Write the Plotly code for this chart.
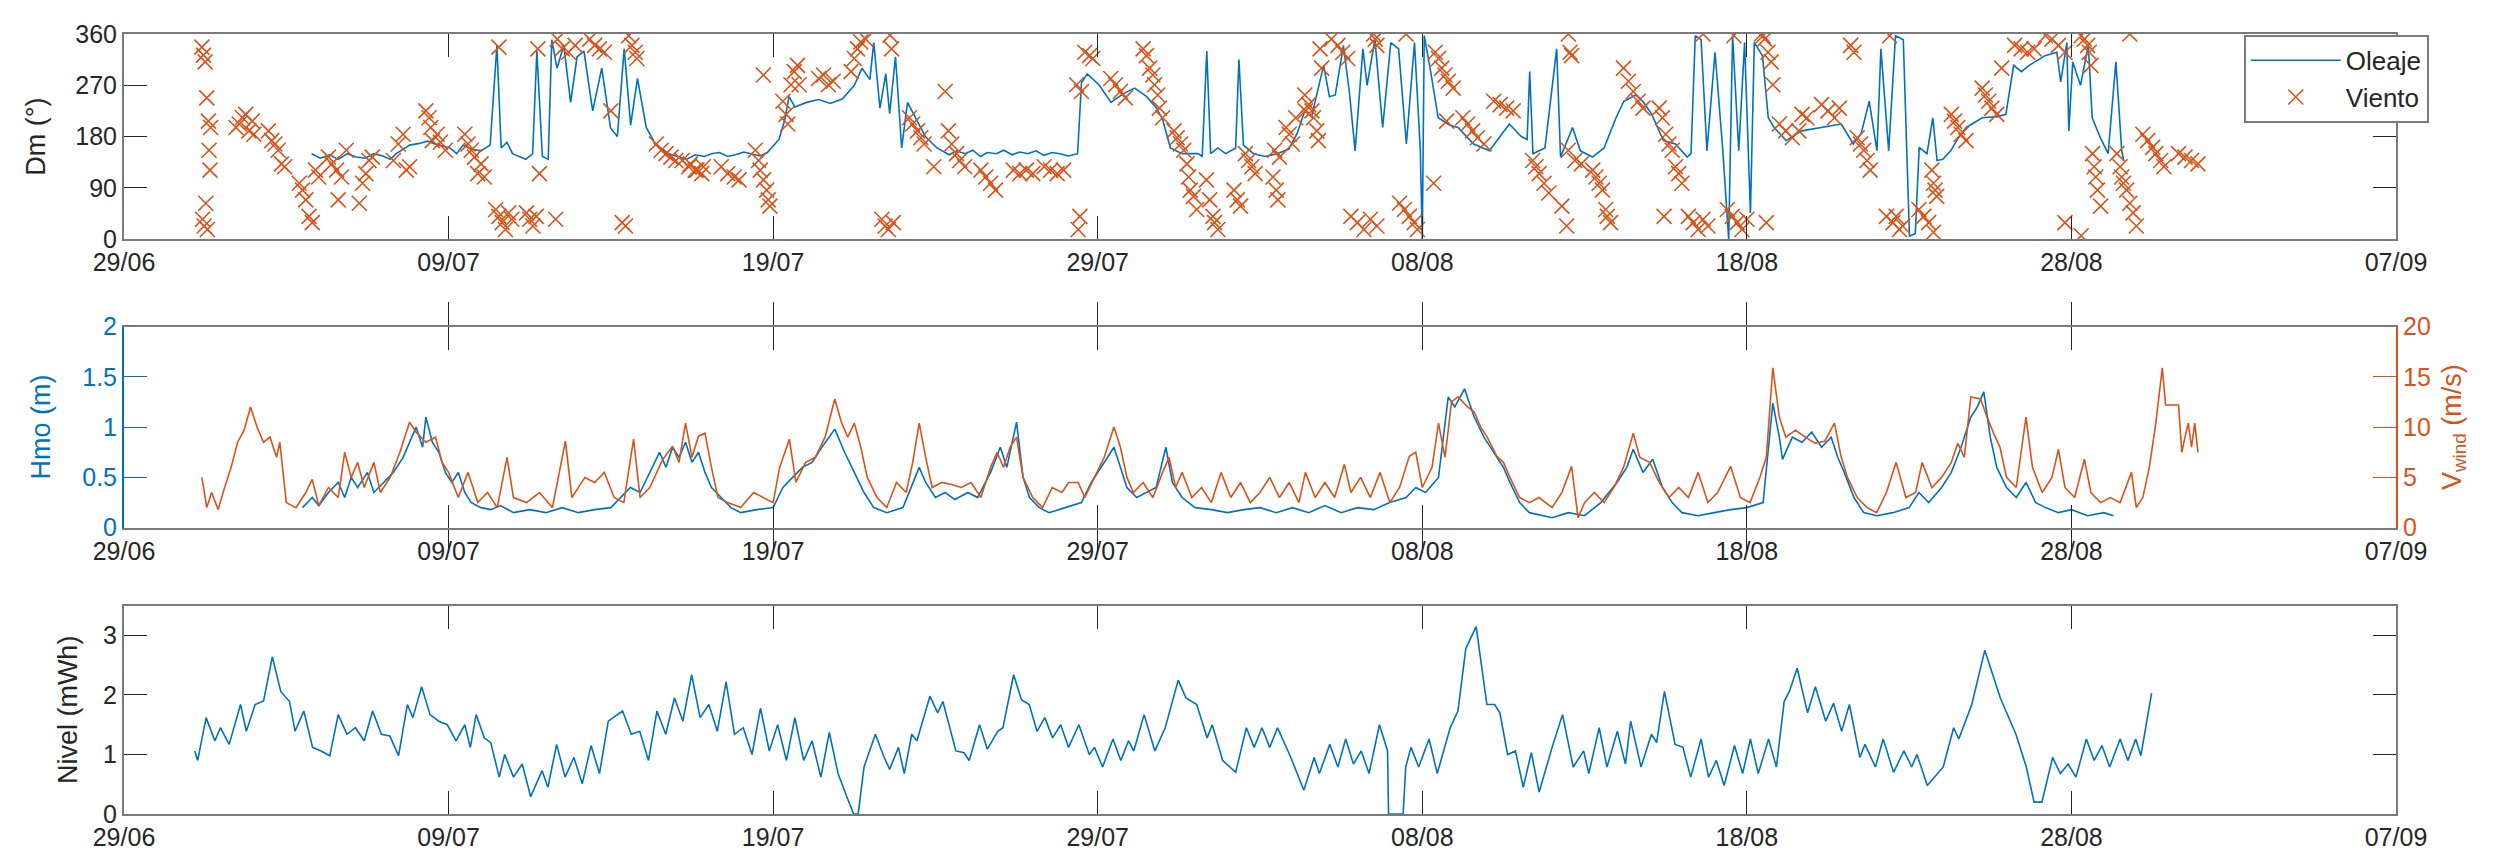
import pandas as pd
import plotly.graph_objects as go

# dias desde el 29/06
inicio = pd.Timestamp("2019-06-29")

# --- Dm oleaje (dia, grados)
dm_oleaje = [
    (5.78, 150), (6.05, 142), (6.33, 148), (6.6, 140), (6.88, 150), (7.15, 144), (7.43, 142), (7.7, 150),
    (7.98, 146), (8.2, 140), (8.39, 150), (8.6, 158), (8.80, 165), (9.1, 168), (9.35, 172), (9.7, 165),
    (10.04, 160), (10.25, 150), (10.45, 165), (10.7, 158), (11.0, 155), (11.28, 165), (11.49, 340),
    (11.62, 160), (11.8, 170), (11.97, 150), (12.2, 145), (12.38, 140), (12.59, 150), (12.72, 330),
    (12.89, 145), (13.07, 140), (13.18, 350), (13.34, 300),
    (13.55, 340), (13.76, 240), (13.96, 320), (14.17, 330), (14.44, 225), (14.72, 300), (14.99, 195),
    (15.20, 180), (15.41, 334), (15.61, 200), (15.82, 282), (16.09, 196), (16.37, 167), (16.78, 150),
    (17.05, 145), (17.33, 140), (17.6, 148), (17.88, 145), (18.1, 150), (18.35, 152), (18.6, 145),
    (18.84, 148), (19.1, 153), (19.33, 150), (19.6, 146), (19.82, 152), (20.18, 175),
    (20.36, 210), (20.49, 250), (20.67, 232), (21.03, 240), (21.40, 245), (21.76, 238), (22.13, 246),
    (22.50, 270), (22.74, 300), (22.98, 280), (23.10, 345), (23.29, 230), (23.47, 290), (23.59, 220),
    (23.77, 320), (23.96, 160), (24.14, 240), (24.32, 220), (24.69, 180), (25.05, 160), (25.42, 148),
    (25.65, 155), (25.91, 150), (26.15, 156), (26.39, 145), (26.6, 152), (26.88, 150), (27.1, 156),
    (27.37, 148), (27.6, 153), (27.85, 150), (28.1, 155), (28.34, 147), (28.6, 152), (28.83, 150),
    (29.1, 146), (29.38, 150), (29.50, 275), (29.68, 290), (30.05, 270), (30.41, 240), (30.78, 255),
    (31.14, 265), (31.51, 250), (31.81, 230), (32.00, 210), (32.24, 160), (32.60, 150), (33.09, 150),
    (33.22, 145), (33.36, 330), (33.48, 150), (33.70, 160), (33.94, 150), (34.25, 160), (34.35, 315),
    (34.49, 165), (34.80, 150), (35.16, 145), (35.53, 150), (35.89, 158), (36.14, 185), (36.38, 225),
    (36.59, 215), (36.96, 305), (37.14, 250), (37.32, 253), (37.57, 340), (37.75, 260), (37.93, 155),
    (38.17, 334), (38.30, 270), (38.54, 351), (38.78, 196), (39.03, 345), (39.27, 334), (39.51, 167),
    (39.76, 345), (39.94, 155), (40.0, 0), (40.06, 357), (40.24, 300), (40.49, 213), (40.85, 200),
    (41.10, 196), (41.58, 167), (42.07, 155), (42.68, 202), (43.05, 180), (43.23, 175), (43.31, 294),
    (43.41, 150), (43.78, 160), (44.14, 334), (44.26, 144), (44.63, 196), (44.87, 155), (45.24, 144),
    (45.60, 160), (45.97, 213), (46.21, 242), (46.58, 253), (46.82, 240), (47.07, 219), (47.43, 173),
    (47.80, 167), (48.16, 144), (48.28, 150), (48.41, 357), (48.59, 350), (48.77, 155), (49.02, 328),
    (49.26, 155), (49.44, 0), (49.56, 357), (49.75, 155), (49.93, 345), (50.11, 46), (50.23, 345),
    (50.48, 322), (50.66, 213), (50.84, 196), (51.21, 173), (51.69, 190), (52.30, 196), (52.91, 202),
    (53.28, 167), (53.52, 185), (53.77, 242), (54.01, 155), (54.13, 334), (54.37, 155), (54.58, 357),
    (54.82, 350), (55.01, 5), (55.19, 10), (55.31, 161), (55.55, 150), (55.73, 213), (55.86, 138),
    (56.04, 140), (56.28, 155), (56.52, 178), (56.76, 196), (57.25, 213), (57.73, 215), (57.98, 219),
    (58.22, 305), (58.46, 294), (58.70, 305), (59.19, 322), (59.55, 328), (59.67, 276), (59.86, 345),
    (59.92, 190), (60.04, 311), (60.28, 270), (60.52, 340), (60.64, 213), (60.89, 178), (61.13, 150),
    (61.37, 311), (61.55, 155), (61.61, 138),
]

# --- Dm viento (dia, grados)
dm_viento = [
    (2.40, 337), (2.42, 35), (2.45, 323), (2.47, 23), (2.50, 311), (2.52, 63), (2.55, 248), (2.57, 17),
    (2.60, 207), (2.62, 156), (2.65, 121), (2.67, 196),
    (3.45, 196), (3.55, 202), (3.65, 213), (3.75, 219), (3.85, 190), (3.95, 207), (4.0, 184),
    (4.45, 190), (4.55, 173), (4.65, 167), (4.75, 156), (4.85, 132), (4.95, 127),
    (5.4, 98), (5.5, 86), (5.6, 69), (5.7, 40), (5.8, 29), (5.9, 121), (6.0, 109),
    (6.3, 144), (6.4, 132), (6.55, 121), (6.6, 69), (6.7, 109), (6.85, 156),
    (7.25, 63), (7.35, 98), (7.45, 115), (7.55, 138), (7.65, 144),
    (8.3, 138), (8.45, 167), (8.6, 184), (8.7, 121), (8.8, 127),
    (9.3, 225), (9.4, 213), (9.45, 196), (9.5, 173), (9.65, 184), (9.75, 170), (9.9, 156),
    (10.5, 184), (10.6, 167), (10.7, 156), (10.8, 144), (10.9, 115), (11.0, 132), (11.1, 109),
    (11.45, 52), (11.55, 40), (11.65, 29), (11.75, 17), (11.85, 46), (11.95, 35), (11.55, 337),
    (12.4, 46), (12.5, 35), (12.6, 23), (12.7, 40), (12.75, 334), (12.8, 115), (13.3, 35),
    (13.35, 351), (13.5, 334), (13.7, 328), (13.9, 340), (14.35, 351), (14.5, 340), (14.65, 334), (14.8, 328),
    (15.35, 29), (15.45, 23), (15.55, 357), (15.65, 340), (15.75, 328), (15.8, 317), (15.0, 225),
    (16.4, 167), (16.55, 156), (16.7, 150), (16.85, 144), (17.0, 138),
    (17.2, 138), (17.4, 127), (17.6, 121), (17.8, 115), (17.45, 132), (17.65, 121), (17.85, 127),
    (18.4, 127), (18.6, 115), (18.8, 109), (18.95, 104),
    (19.45, 156), (19.55, 138), (19.6, 121), (19.7, 104), (19.8, 86), (19.85, 69), (19.9, 58), (19.7, 288),
    (20.3, 242), (20.4, 219), (20.45, 202), (20.55, 271), (20.65, 294), (20.75, 305), (20.8, 271),
    (21.4, 282), (21.55, 288), (21.7, 271), (21.85, 277),
    (22.4, 294), (22.5, 317), (22.6, 334), (22.7, 346), (22.85, 351), (23.6, 358), (23.65, 334),
    (23.35, 35), (23.45, 23), (23.55, 17), (23.7, 29),
    (24.2, 213), (24.3, 202), (24.45, 190), (24.55, 178), (24.65, 167), (24.95, 127), (25.3, 259),
    (25.4, 190), (25.5, 167), (25.65, 150), (25.75, 138), (25.9, 127),
    (26.4, 121), (26.55, 109), (26.7, 98), (26.85, 86),
    (27.4, 121), (27.6, 115), (27.8, 121), (28.0, 115),
    (28.35, 127), (28.55, 121), (28.75, 115), (28.95, 121),
    (29.4, 17), (29.45, 40), (29.35, 271), (29.5, 259), (29.6, 328), (29.75, 322), (29.85, 317),
    (30.4, 282), (30.55, 271), (30.7, 259), (30.85, 248),
    (31.4, 334), (31.5, 322), (31.6, 300), (31.7, 288), (31.75, 271), (31.85, 253), (31.9, 230), (32.0, 213),
    (32.35, 190), (32.45, 178), (32.55, 167), (32.65, 156), (32.75, 132), (32.8, 109), (32.85, 86),
    (32.95, 75), (33.05, 52),
    (33.35, 104), (33.45, 69), (33.55, 40), (33.6, 29), (33.7, 17),
    (34.2, 86), (34.3, 69), (34.4, 58), (34.55, 150), (34.65, 138), (34.75, 127), (34.85, 115),
    (35.4, 109), (35.5, 86), (35.55, 69), (35.45, 156), (35.6, 144),
    (35.8, 196), (35.9, 184), (36.0, 167), (36.1, 213), (36.38, 253), (36.4, 225),
    (36.5, 236), (36.6, 225), (36.65, 213), (36.75, 190), (36.8, 173), (36.85, 334), (36.9, 300),
    (37.2, 351), (37.4, 340), (37.55, 328), (37.7, 317),
    (37.8, 40), (38.0, 29), (38.2, 17), (38.4, 35), (38.6, 23), (38.5, 360), (38.55, 351), (38.6, 340),
    (39.5, 360), (39.3, 63), (39.45, 52), (39.6, 40), (39.75, 29), (39.85, 17), (40.35, 98),
    (40.4, 328), (40.5, 317), (40.6, 300), (40.7, 288), (40.8, 277), (40.95, 265), (40.75, 207),
    (41.25, 213), (41.4, 202), (41.55, 190), (41.7, 178), (41.9, 167),
    (42.2, 242), (42.4, 236), (42.6, 230), (42.8, 225),
    (43.4, 138), (43.5, 127), (43.6, 115), (43.75, 98), (43.9, 81),
    (44.3, 58), (44.45, 23), (44.5, 360), (44.55, 328), (44.6, 322), (44.5, 156), (44.7, 138), (44.9, 132),
    (45.25, 121), (45.35, 109), (45.45, 98), (45.55, 86), (45.65, 52), (45.7, 40), (45.8, 29),
    (46.2, 300), (46.35, 277), (46.5, 259), (46.65, 242), (46.8, 230),
    (47.3, 230), (47.4, 213), (47.5, 184), (47.6, 167), (47.7, 156), (47.8, 127), (47.9, 115), (48.0, 98),
    (47.45, 40), (48.2, 40), (48.35, 29), (48.5, 17), (48.65, 35), (48.8, 23), (48.65, 360), (49.6, 357),
    (49.4, 52), (49.55, 40), (49.7, 29), (49.85, 17), (50.0, 35),
    (50.45, 360), (50.5, 357), (50.55, 351), (50.6, 29), (50.65, 328), (50.75, 311), (50.8, 271),
    (51.0, 202), (51.2, 190), (51.4, 178), (51.6, 190), (51.7, 219), (51.85, 213),
    (52.3, 236), (52.5, 225), (52.7, 213), (52.85, 230),
    (53.2, 340), (53.3, 328), (53.4, 178), (53.5, 167), (53.6, 156), (53.7, 138), (53.8, 121),
    (54.3, 40), (54.5, 29), (54.7, 17), (54.4, 357), (54.6, 40), (54.8, 23),
    (55.3, 52), (55.45, 40), (55.6, 29), (55.75, 12), (55.7, 121), (55.75, 98), (55.8, 86), (55.85, 75),
    (56.3, 219), (56.4, 207), (56.5, 196), (56.6, 184), (56.75, 173),
    (57.25, 265), (57.35, 253), (57.45, 242), (57.55, 230), (57.7, 219), (57.85, 300),
    (58.25, 340), (58.45, 334), (58.65, 328), (58.85, 334),
    (59.2, 357), (59.4, 351), (59.6, 340), (59.8, 328), (59.8, 29), (60.3, 6),
    (60.3, 357), (60.4, 351), (60.5, 340), (60.55, 328), (60.6, 305),
    (60.65, 150), (60.7, 127), (60.75, 109), (60.8, 86), (60.9, 58),
    (61.4, 150), (61.5, 127), (61.55, 109), (61.6, 98), (61.7, 86), (61.8, 63), (61.9, 46), (62.0, 23), (61.8, 360),
    (62.2, 184), (62.35, 173), (62.5, 161), (62.6, 150), (62.75, 138), (62.85, 127),
    (63.3, 150), (63.5, 144), (63.7, 138), (63.9, 132),
]

# --- Hmo (dia, m)
hmo = [
    (5.5, 0.20), (5.8, 0.30), (6.0, 0.22), (6.3, 0.35), (6.6, 0.45), (6.8, 0.30), (7.0, 0.50), (7.2, 0.40),
    (7.5, 0.55), (7.7, 0.35), (8.0, 0.45), (8.3, 0.55), (8.6, 0.70), (8.8, 0.85), (9.0, 1.00), (9.2, 0.80),
    (9.3, 1.10), (9.5, 0.85), (9.7, 0.75), (9.9, 0.55), (10.1, 0.45), (10.3, 0.55), (10.5, 0.35), (10.7, 0.25),
    (11.0, 0.20), (11.3, 0.18), (11.6, 0.22), (12.0, 0.15), (12.5, 0.18), (13.0, 0.15), (13.5, 0.20),
    (14.0, 0.15), (14.5, 0.18), (15.0, 0.20), (15.3, 0.30), (15.6, 0.40), (15.9, 0.35), (16.2, 0.55),
    (16.5, 0.75), (16.7, 0.60), (16.9, 0.80), (17.1, 0.70), (17.3, 0.85), (17.5, 0.65), (17.7, 0.75),
    (17.9, 0.55), (18.1, 0.40), (18.4, 0.30), (18.7, 0.20), (19.0, 0.15), (19.5, 0.18), (20.0, 0.20),
    (20.3, 0.40), (20.6, 0.50), (20.9, 0.60), (21.2, 0.65), (21.5, 0.80), (21.9, 0.98), (22.2, 0.75),
    (22.5, 0.55), (22.8, 0.35), (23.1, 0.20), (23.5, 0.15), (24.0, 0.20), (24.3, 0.45), (24.5, 0.60),
    (24.7, 0.45), (25.0, 0.30), (25.3, 0.35), (25.6, 0.28), (26.0, 0.35), (26.3, 0.30), (26.7, 0.55),
    (27.0, 0.80), (27.2, 0.60), (27.5, 1.05), (27.7, 0.50), (27.9, 0.30), (28.2, 0.20), (28.5, 0.15),
    (29.0, 0.20), (29.5, 0.25), (29.8, 0.45), (30.1, 0.60), (30.5, 0.80), (30.7, 0.60), (30.9, 0.40),
    (31.2, 0.30), (31.5, 0.35), (31.8, 0.40), (32.1, 0.80), (32.3, 0.45), (32.6, 0.30), (33.0, 0.20),
    (33.5, 0.18), (34.0, 0.15), (34.5, 0.18), (35.0, 0.20), (35.5, 0.15), (36.0, 0.20), (36.5, 0.15),
    (37.0, 0.22), (37.5, 0.15), (38.0, 0.20), (38.5, 0.18), (39.0, 0.25), (39.5, 0.30), (39.8, 0.40),
    (40.1, 0.35), (40.5, 0.50), (40.8, 1.30), (41.0, 1.20), (41.3, 1.38), (41.6, 1.10), (41.9, 0.90),
    (42.2, 0.75), (42.5, 0.60), (42.7, 0.45), (43.0, 0.25), (43.3, 0.15), (43.7, 0.12), (44.0, 0.10),
    (44.5, 0.15), (45.0, 0.12), (45.5, 0.25), (46.0, 0.45), (46.3, 0.60), (46.5, 0.78), (46.8, 0.55),
    (47.1, 0.68), (47.4, 0.40), (47.7, 0.25), (48.0, 0.15), (48.5, 0.12), (49.0, 0.15), (49.5, 0.18),
    (50.0, 0.20), (50.5, 0.25), (50.8, 1.24), (51.0, 0.90), (51.1, 0.68), (51.4, 0.90), (51.7, 0.85),
    (52.0, 0.95), (52.3, 0.80), (52.6, 0.90), (52.8, 0.70), (53.0, 0.55), (53.3, 0.30), (53.6, 0.15),
    (54.0, 0.12), (54.5, 0.15), (55.0, 0.20), (55.3, 0.35), (55.6, 0.25), (56.0, 0.40), (56.3, 0.55),
    (56.6, 0.80), (56.9, 1.10), (57.1, 1.20), (57.3, 1.35), (57.5, 0.90), (57.7, 0.60), (58.0, 0.40),
    (58.3, 0.30), (58.6, 0.45), (58.9, 0.25), (59.2, 0.20), (59.6, 0.15), (60.0, 0.18), (60.5, 0.12),
    (61.0, 0.15), (61.3, 0.12),
]

# --- V viento (dia, m/s)
v_viento = [
    (2.4, 5.0), (2.55, 2.0), (2.7, 3.5), (2.9, 1.8), (3.1, 4.0), (3.3, 6.0), (3.5, 8.5), (3.7, 9.7),
    (3.9, 12.0), (4.1, 10.0), (4.3, 8.5), (4.5, 9.0), (4.7, 7.0), (4.8, 8.5), (5.0, 2.5), (5.3, 2.0),
    (5.6, 3.5), (5.8, 4.8), (6.0, 2.2), (6.3, 4.0), (6.6, 3.0), (6.8, 7.5), (7.0, 5.0), (7.2, 6.5),
    (7.4, 4.0), (7.7, 6.5), (7.9, 3.5), (8.2, 5.0), (8.5, 7.5), (8.8, 10.5), (9.0, 9.5), (9.3, 8.5),
    (9.6, 9.0), (9.8, 6.5), (10.0, 5.5), (10.3, 3.0), (10.6, 5.5), (10.9, 2.5), (11.2, 3.5), (11.5, 2.0),
    (11.8, 7.0), (12.0, 3.0), (12.4, 2.5), (12.8, 3.5), (13.2, 2.0), (13.6, 8.6), (13.8, 3.0), (14.2, 5.0),
    (14.5, 4.5), (14.8, 5.5), (15.1, 3.0), (15.4, 2.5), (15.7, 8.8), (15.9, 3.0), (16.2, 4.0), (16.6, 6.8),
    (16.9, 8.1), (17.1, 6.5), (17.3, 10.4), (17.5, 7.0), (17.7, 9.1), (17.9, 9.4), (18.1, 6.0), (18.3, 3.0),
    (18.6, 2.5), (19.0, 2.0), (19.4, 3.5), (19.7, 3.0), (20.0, 2.5), (20.2, 6.0), (20.5, 8.8), (20.7, 4.5),
    (21.0, 6.5), (21.3, 7.0), (21.6, 9.0), (21.9, 12.8), (22.1, 10.5), (22.3, 9.0), (22.5, 10.4), (22.7, 8.0),
    (22.9, 5.0), (23.2, 3.0), (23.5, 2.0), (23.8, 4.5), (24.1, 3.5), (24.3, 6.5), (24.5, 10.4), (24.7, 7.0),
    (24.9, 4.0), (25.2, 4.5), (25.5, 4.3), (25.8, 4.0), (26.1, 4.5), (26.4, 3.0), (26.7, 6.0), (26.9, 7.5),
    (27.1, 6.0), (27.3, 8.0), (27.5, 9.0), (27.7, 5.0), (28.0, 3.0), (28.3, 2.0), (28.6, 4.0), (28.9, 3.5),
    (29.1, 4.5), (29.4, 4.5), (29.6, 3.0), (29.9, 5.0), (30.2, 7.0), (30.5, 10.0), (30.7, 8.0), (30.9, 5.0),
    (31.1, 3.5), (31.4, 4.5), (31.7, 3.0), (32.0, 5.5), (32.2, 7.0), (32.4, 4.0), (32.6, 5.5), (32.9, 3.0),
    (33.2, 4.0), (33.5, 2.5), (33.8, 5.5), (34.1, 3.0), (34.4, 4.5), (34.7, 2.5), (35.0, 3.5), (35.3, 5.0),
    (35.6, 3.0), (35.9, 4.5), (36.2, 2.5), (36.4, 5.5), (36.7, 3.0), (37.0, 4.5), (37.3, 3.0), (37.6, 6.3),
    (37.8, 3.5), (38.1, 5.0), (38.4, 3.0), (38.7, 5.5), (39.0, 2.5), (39.3, 4.0), (39.6, 7.1), (39.8, 7.5),
    (40.0, 4.0), (40.3, 6.0), (40.5, 10.4), (40.7, 7.0), (40.9, 12.5), (41.1, 13.0), (41.4, 12.0),
    (41.6, 11.5), (41.8, 10.0), (42.0, 9.0), (42.3, 7.1), (42.5, 6.5), (42.7, 5.0), (43.0, 3.0), (43.3, 2.5),
    (43.6, 3.0), (44.0, 2.0), (44.3, 3.5), (44.6, 6.1), (44.8, 1.0), (45.0, 2.5), (45.3, 3.5), (45.6, 2.5),
    (45.9, 4.0), (46.2, 6.0), (46.5, 9.4), (46.7, 7.0), (47.0, 6.5), (47.3, 4.5), (47.6, 3.0), (47.9, 4.0),
    (48.2, 3.0), (48.5, 5.5), (48.8, 2.5), (49.1, 3.5), (49.5, 6.1), (49.8, 3.0), (50.1, 2.5), (50.4, 5.0),
    (50.6, 7.0), (50.8, 15.9), (51.0, 11.0), (51.2, 9.0), (51.5, 9.7), (51.8, 9.0), (52.1, 8.4), (52.4, 8.6),
    (52.7, 10.4), (52.9, 7.1), (53.1, 5.0), (53.4, 3.0), (53.7, 2.0), (54.0, 1.5), (54.3, 3.5), (54.6, 6.5),
    (54.9, 3.0), (55.2, 3.5), (55.4, 6.5), (55.7, 4.0), (56.0, 5.0), (56.3, 6.5), (56.5, 8.4), (56.7, 7.0),
    (56.9, 13.0), (57.2, 12.8), (57.4, 11.0), (57.6, 9.4), (57.8, 8.0), (58.0, 5.0), (58.3, 4.0), (58.6, 11.0),
    (58.8, 6.0), (59.1, 3.5), (59.4, 5.0), (59.6, 7.8), (59.8, 4.0), (60.1, 3.0), (60.4, 6.8), (60.6, 3.5),
    (60.9, 2.5), (61.2, 3.0), (61.5, 2.5), (61.85, 5.5), (62.0, 2.0), (62.2, 3.0), (62.4, 6.0), (62.6, 10.4),
    (62.8, 15.9), (62.9, 12.2), (63.3, 12.2), (63.4, 7.5), (63.5, 9.0), (63.6, 10.4), (63.7, 8.0),
    (63.8, 10.4), (63.9, 7.5),
]

# --- Nivel (dia, mWh)
nivel = [
    (2.18, 1.06), (2.27, 0.90), (2.53, 1.62), (2.80, 1.23), (2.97, 1.45), (3.24, 1.17), (3.59, 1.84),
    (3.77, 1.39), (4.04, 1.84), (4.30, 1.90), (4.57, 2.64), (4.83, 2.06), (5.10, 1.89), (5.27, 1.39),
    (5.54, 1.73), (5.81, 1.12), (6.07, 1.06), (6.34, 0.98), (6.60, 1.67), (6.87, 1.34), (7.13, 1.45),
    (7.40, 1.23), (7.66, 1.73), (7.93, 1.34), (8.19, 1.31), (8.46, 0.98), (8.73, 1.84), (8.90, 1.62),
    (9.17, 2.14), (9.43, 1.67), (9.70, 1.56), (9.96, 1.50), (10.23, 1.23), (10.50, 1.50), (10.67, 1.12),
    (10.85, 1.67), (11.10, 1.28), (11.30, 1.20), (11.56, 0.62), (11.73, 1.00), (12.00, 0.62), (12.27, 0.84),
    (12.53, 0.29), (12.88, 0.73), (13.06, 0.45), (13.33, 1.17), (13.59, 0.62), (13.86, 0.95), (14.12, 0.51),
    (14.39, 1.15), (14.65, 0.68), (14.92, 1.56), (15.36, 1.73), (15.63, 1.34), (15.89, 1.39), (16.16, 0.90),
    (16.42, 1.73), (16.69, 1.34), (16.96, 1.95), (17.22, 1.56), (17.49, 2.34), (17.75, 1.62), (18.02, 1.84),
    (18.28, 1.39), (18.55, 2.22), (18.81, 1.34), (19.08, 1.45), (19.35, 1.00), (19.61, 1.78), (19.88, 1.06),
    (20.14, 1.50), (20.41, 0.90), (20.67, 1.62), (20.94, 0.90), (21.20, 1.23), (21.47, 0.62), (21.73, 1.37),
    (22.00, 0.68), (22.27, 0.29), (22.48, 0.0), (22.62, 0.0), (22.80, 0.79), (23.15, 1.34), (23.42, 0.95),
    (23.59, 0.75), (23.86, 1.12), (24.04, 0.68), (24.27, 1.34), (24.43, 1.23), (24.83, 1.98), (25.07, 1.70),
    (25.23, 1.89), (25.63, 1.06), (25.88, 1.03), (26.04, 0.90), (26.36, 1.50), (26.60, 1.09), (26.92, 1.39),
    (27.08, 1.45), (27.41, 2.34), (27.65, 1.92), (27.89, 1.84), (28.13, 1.39), (28.37, 1.62), (28.61, 1.28),
    (28.86, 1.50), (29.10, 1.12), (29.42, 1.50), (29.74, 1.00), (29.90, 1.12), (30.15, 0.79), (30.47, 1.26),
    (30.71, 0.90), (30.95, 1.23), (31.11, 1.06), (31.43, 1.67), (31.76, 1.06), (32.08, 1.45), (32.48, 2.25),
    (32.72, 1.95), (33.05, 1.84), (33.37, 1.28), (33.53, 1.50), (33.85, 0.90), (34.25, 0.70), (34.58, 1.45),
    (34.82, 1.12), (35.06, 1.45), (35.30, 1.12), (35.54, 1.45), (35.95, 0.95), (36.35, 0.40), (36.67, 0.95),
    (36.83, 0.68), (37.15, 1.17), (37.40, 0.79), (37.64, 1.26), (37.88, 0.84), (38.12, 1.06), (38.36, 0.68),
    (38.68, 1.50), (38.93, 1.06), (38.96, 0.0), (39.41, 0.0), (39.49, 0.79), (39.65, 1.12), (39.89, 0.79),
    (40.21, 1.26), (40.46, 0.68), (40.86, 1.45), (41.10, 1.73), (41.34, 2.78), (41.66, 3.15), (41.99, 1.84),
    (42.23, 1.84), (42.39, 1.70), (42.63, 1.00), (42.87, 1.06), (43.11, 0.45), (43.36, 1.03), (43.60, 0.37),
    (44.00, 1.12), (44.32, 1.67), (44.65, 0.79), (44.97, 1.06), (45.13, 0.68), (45.45, 1.45), (45.69, 0.79),
    (46.01, 1.39), (46.26, 0.84), (46.42, 1.56), (46.74, 0.79), (47.06, 1.34), (47.22, 1.20), (47.46, 2.06),
    (47.79, 1.17), (48.03, 1.12), (48.27, 0.62), (48.59, 1.26), (48.82, 0.62), (49.06, 0.90), (49.30, 0.48),
    (49.62, 1.15), (49.87, 0.68), (50.11, 1.26), (50.35, 0.68), (50.67, 1.26), (50.91, 0.79), (51.15, 1.89),
    (51.31, 2.06), (51.55, 2.45), (51.87, 1.70), (52.11, 2.14), (52.43, 1.56), (52.67, 1.86), (52.92, 1.39),
    (53.16, 1.84), (53.48, 0.95), (53.64, 1.17), (53.96, 0.79), (54.20, 1.26), (54.52, 0.70), (54.84, 1.06),
    (55.08, 0.79), (55.24, 1.00), (55.56, 0.48), (56.05, 0.79), (56.37, 1.45), (56.53, 1.26), (56.93, 1.84),
    (57.33, 2.75), (57.81, 1.95), (58.29, 1.34), (58.61, 0.79), (58.85, 0.20), (59.09, 0.20), (59.42, 0.95),
    (59.66, 0.68), (59.90, 0.84), (60.14, 0.62), (60.46, 1.26), (60.70, 0.90), (60.94, 1.15), (61.18, 0.79),
    (61.50, 1.26), (61.74, 0.90), (61.98, 1.26), (62.14, 0.98), (62.47, 2.03),
]

fechas_ticks = ["29/06", "09/07", "19/07", "29/07", "08/08", "18/08", "28/08", "07/09"]

AZUL = "#0072BD"
NARANJA = "#D95319"
GRIS = "#262626"
BORDE = "#7a7a7a"
FUENTE = "Liberation Sans, Arial, sans-serif"


def a_fechas(puntos):
    dias = [p[0] for p in puntos]
    vals = [p[1] for p in puntos]
    return inicio + pd.to_timedelta(dias, unit="D"), vals


fig = go.Figure()

x, y = a_fechas(dm_oleaje)
fig.add_trace(go.Scatter(x=x, y=y, mode="lines", name="Oleaje",
                         line=dict(color=AZUL, width=1.6), xaxis="x", yaxis="y"))
x, y = a_fechas(dm_viento)
fig.add_trace(go.Scatter(x=x, y=y, mode="markers", name="Viento",
                         marker=dict(symbol="x-thin-open", size=15, color=NARANJA,
                                     line=dict(color=NARANJA, width=1.6)),
                         xaxis="x", yaxis="y"))

x, y = a_fechas(hmo)
fig.add_trace(go.Scatter(x=x, y=y, mode="lines", showlegend=False,
                         line=dict(color=AZUL, width=1.6), xaxis="x2", yaxis="y2"))
x, y = a_fechas(v_viento)
fig.add_trace(go.Scatter(x=x, y=y, mode="lines", showlegend=False,
                         line=dict(color=NARANJA, width=1.6), xaxis="x2", yaxis="y3"))

x, y = a_fechas(nivel)
fig.add_trace(go.Scatter(x=x, y=y, mode="lines", showlegend=False,
                         line=dict(color=AZUL, width=1.6), xaxis="x3", yaxis="y4"))

tick_x = [inicio + pd.Timedelta(days=10 * i) for i in range(len(fechas_ticks))]
rango_x = [tick_x[0], tick_x[-1]]

eje_x = dict(range=rango_x, tickvals=tick_x, ticktext=fechas_ticks, ticks="inside", ticklen=23,
             tickcolor=GRIS, showline=True, linecolor=BORDE, linewidth=2, mirror="allticks",
             showgrid=False, zeroline=False, tickfont=dict(size=25, color=GRIS))
eje_y = dict(ticks="inside", ticklen=23, tickcolor=GRIS, showline=True, linecolor=BORDE, linewidth=2,
             mirror="allticks", showgrid=False, zeroline=False, tickfont=dict(size=25, color=GRIS))

fig.update_layout(
    width=2497, height=855,
    margin=dict(l=116, r=109, t=15, b=49),
    paper_bgcolor="white", plot_bgcolor="white",
    font=dict(family=FUENTE, color=GRIS, size=25),
    xaxis=dict(eje_x, domain=[0, 1], anchor="y"),
    xaxis2=dict(eje_x, domain=[0, 1], anchor="y2"),
    xaxis3=dict(eje_x, domain=[0, 1], anchor="y4"),
    yaxis=dict(eje_y, domain=[0.737, 1.0], range=[0, 360], tickvals=[0, 90, 180, 270, 360],
               title=dict(text="Dm (°)", font=dict(size=27, color=GRIS), standoff=22)),
    yaxis2=dict(eje_y, domain=[0.367, 0.625], range=[0, 2], tickvals=[0, 0.5, 1, 1.5, 2],
                mirror=False, linecolor=AZUL, tickcolor=AZUL, tickfont=dict(size=25, color=AZUL),
                title=dict(text="Hmo (m)", font=dict(size=27, color=AZUL), standoff=24)),
    yaxis3=dict(eje_y, overlaying="y2", side="right", anchor="x2", range=[0, 20],
                tickvals=[0, 5, 10, 15, 20], mirror=False, linecolor=NARANJA, tickcolor=NARANJA,
                tickfont=dict(size=25, color=NARANJA),
                title=dict(text="V<sub>wind</sub> (m/s)", font=dict(size=27, color=NARANJA), standoff=12)),
    yaxis4=dict(eje_y, domain=[0, 0.267], range=[0, 3.5], tickvals=[0, 1, 2, 3],
                title=dict(text="Nivel (mWh)", font=dict(size=27, color=GRIS), standoff=18)),
    legend=dict(x=0.933, y=0.999, xanchor="left", yanchor="top", bgcolor="white",
                bordercolor=BORDE, borderwidth=2, font=dict(size=26, color=GRIS),
                itemwidth=90, tracegroupgap=0),
)

fig.write_html("out.html")
